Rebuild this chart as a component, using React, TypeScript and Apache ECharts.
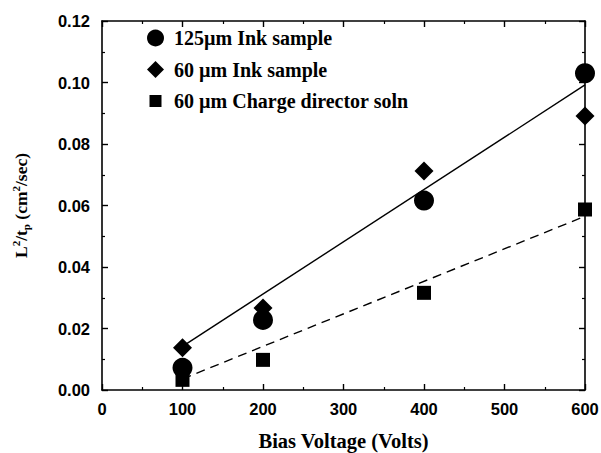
import React, { useEffect, useRef } from "react";
import * as echarts from "echarts";

const ink125: number[][] = [[100, 0.0072], [200, 0.0228], [400, 0.0616], [600, 0.103]];
const ink60: number[][] = [[100, 0.0137], [200, 0.0267], [400, 0.0712], [600, 0.0891]];
const charge60: number[][] = [[100, 0.0033], [200, 0.0098], [400, 0.0316], [600, 0.0587]];
const fitSolid: number[][] = [[100, 0.0142], [600, 0.0992]];
const fitDashed: number[][] = [[100, 0.0036], [600, 0.0565]];
const seriesNames = ["125\u00b5m Ink sample", "60 \u00b5m Ink sample", "60 \u00b5m Charge director soln"];

const sansBold = { fontFamily: "Liberation Sans, Arial, sans-serif", fontWeight: "bold" as const, fontSize: 16.5, color: "#000" };
const serifBold = "Liberation Serif, Times New Roman, serif";

export default function App() {
  const ref = useRef<HTMLDivElement>(null);
  useEffect(() => {
    if (!ref.current) return;
    const chart = echarts.init(ref.current, undefined, { renderer: "svg" });
    const axisLine = { show: true, onZero: false, lineStyle: { color: "#000", width: 1.6 } };
    const axisTick = { show: true, inside: true, length: 6, lineStyle: { color: "#000", width: 1.4 } };
    const minorTick = { show: true, splitNumber: 2, length: 3, lineStyle: { color: "#000", width: 1.2 } };
    chart.setOption({
      animation: false,
      backgroundColor: "#fff",
      grid: { left: 102, right: 16, top: 21, bottom: 63, containLabel: false, outerBoundsMode: "none" },
      legend: {
        orient: "vertical",
        left: 142,
        top: 23,
        padding: 5,
        itemWidth: 17,
        itemHeight: 17,
        itemGap: 11.5,
        selectedMode: false,
        textStyle: { fontFamily: serifBold, fontWeight: "bold", fontSize: 20, color: "#000", lineHeight: 17, padding: [0, 0, 0, 5] },
        data: [
          { name: seriesNames[0], icon: "circle" },
          { name: seriesNames[1], icon: "diamond" },
          { name: seriesNames[2], icon: "path://M0,0M17,17M2.5,2.5H14.5V14.5H2.5Z" },
        ],
      },
      xAxis: [
        {
          type: "value",
          min: 0,
          max: 600,
          interval: 100,
          axisLine,
          axisTick,
          minorTick,
          splitLine: { show: false },
          axisLabel: { ...sansBold, margin: 10 },
          name: "Bias Voltage (Volts)",
          nameLocation: "middle",
          nameGap: 40,
          nameTextStyle: { fontFamily: serifBold, fontWeight: "bold", fontSize: 20.5, lineHeight: 21, color: "#000" },
        },
        {
          type: "value",
          position: "top",
          min: 0,
          max: 600,
          interval: 100,
          axisLine,
          axisTick,
          minorTick,
          splitLine: { show: false },
          axisLabel: { show: false },
        },
      ],
      yAxis: [
        {
          type: "value",
          min: 0,
          max: 0.12,
          interval: 0.02,
          axisLine,
          axisTick,
          minorTick,
          splitLine: { show: false },
          axisLabel: { ...sansBold, margin: 12, formatter: (v: number) => v.toFixed(2) },
          name: "{b|L}{s|2}{b|/t}{p|p}{b| (cm}{s|2}{b|/sec)}",
          nameLocation: "middle",
          nameRotate: 90,
          nameGap: 71,
          nameTextStyle: {
            fontFamily: serifBold,
            fontWeight: "bold",
            color: "#000",
            rich: {
              b: { fontFamily: serifBold, fontWeight: "bold", fontSize: 17.5, lineHeight: 21, color: "#000" },
              s: { fontFamily: serifBold, fontWeight: "bold", fontSize: 11, lineHeight: 11, verticalAlign: "top", color: "#000" },
              p: { fontFamily: serifBold, fontWeight: "bold", fontSize: 11, lineHeight: 11, verticalAlign: "bottom", color: "#000" },
            },
          },
        },
        {
          type: "value",
          position: "right",
          min: 0,
          max: 0.12,
          interval: 0.02,
          axisLine,
          axisTick,
          minorTick,
          splitLine: { show: false },
          axisLabel: { show: false },
        },
      ],
      series: [
        {
          type: "line",
          data: fitSolid,
          showSymbol: false,
          symbol: "none",
          lineStyle: { color: "#000", width: 1.4 },
          silent: true,
          z: 1,
        },
        {
          type: "line",
          data: fitDashed,
          showSymbol: false,
          symbol: "none",
          lineStyle: { color: "#000", width: 1.4, type: [9, 6] },
          silent: true,
          z: 1,
        },
        {
          name: seriesNames[2],
          type: "scatter",
          data: charge60,
          symbol: "rect",
          symbolSize: 14,
          itemStyle: { color: "#000", opacity: 1 },
          z: 3,
        },
        {
          name: seriesNames[1],
          type: "scatter",
          data: ink60,
          symbol: "diamond",
          symbolSize: 19,
          itemStyle: { color: "#000", opacity: 1 },
          z: 3,
        },
        {
          name: seriesNames[0],
          type: "scatter",
          data: ink125,
          symbol: "circle",
          symbolSize: 20,
          itemStyle: { color: "#000", opacity: 1 },
          z: 4,
        },
      ],
    });
    return () => chart.dispose();
  }, []);
  return <div ref={ref} style={{ position: "fixed", left: 0, top: 0, width: 601, height: 453 }} />;
}
